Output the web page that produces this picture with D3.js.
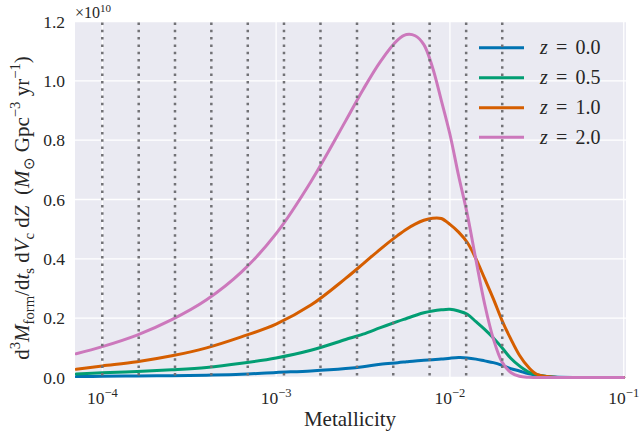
<!DOCTYPE html>
<html><head><meta charset="utf-8">
<script src="https://cdn.jsdelivr.net/npm/d3@7"></script>
<style>
body{margin:0;background:#fff}
svg{display:block}
text{font-family:"Liberation Serif","Times New Roman",serif;fill:#262626;white-space:pre}
</style>
</head><body><svg id="c" width="641" height="435"></svg>
<script>
// log10(metallicity) sample points
const logMetallicity = [-4.15,-4.0,-3.8,-3.6,-3.4,-3.2,-3.0,-2.8,-2.6,-2.5,-2.4,-2.3,-2.25,-2.2,-2.15,-2.1,-2.05,-2.0,-1.95,-1.9,-1.85,-1.8,-1.75,-1.7,-1.65,-1.6,-1.55,-1.5,-1.4,-1.2,-1.0];
// values in units of 1e10
const rateZ00 = [0.003,0.004,0.005,0.006,0.008,0.011,0.017,0.022,0.030,0.036,0.045,0.050,0.053,0.056,0.058,0.060,0.062,0.065,0.067,0.066,0.062,0.056,0.050,0.041,0.030,0.022,0.013,0.007,0.002,0,0];
const rateZ05 = [0.012,0.016,0.020,0.026,0.034,0.048,0.066,0.092,0.128,0.146,0.168,0.189,0.199,0.209,0.218,0.224,0.228,0.230,0.224,0.213,0.188,0.162,0.133,0.100,0.065,0.039,0.019,0.009,0.001,0,0];
const rateZ10 = [0.028,0.039,0.053,0.073,0.100,0.137,0.180,0.244,0.334,0.383,0.433,0.479,0.500,0.517,0.530,0.537,0.536,0.516,0.490,0.455,0.400,0.333,0.265,0.192,0.130,0.075,0.036,0.011,0.001,0,0];
const rateZ20 = [0.080,0.104,0.143,0.195,0.262,0.355,0.485,0.660,0.865,0.970,1.065,1.138,1.156,1.152,1.122,1.045,0.935,0.820,0.680,0.550,0.395,0.247,0.130,0.052,0.017,0.004,0.0005,0,0,0,0];
const seriesLabels = ["0.0","0.5","1.0","2.0"];
const seriesColors = ["#0173B2","#029E73","#D55E00","#CC78BC"];
const binEdges = [1.0e-4,1.62e-4,2.62e-4,4.24e-4,6.87e-4,1.11e-3,1.80e-3,2.92e-3,4.72e-3,7.64e-3,1.24e-2,2.0e-2];
const yTicks = [0,0.2,0.4,0.6,0.8,1.0,1.2];
const xTicks = [1e-4,1e-3,1e-2,1e-1];
const xTickExp = ["\u22124","\u22123","\u22122","\u22121"];

const series = [rateZ00, rateZ05, rateZ10, rateZ20];
const L=75, R=626, T=21.5, B=377.5;
const svg = d3.select("#c");
const x = d3.scaleLog().domain([Math.pow(10,-4.157), Math.pow(10,-0.987)]).range([L,R]);
const y = d3.scaleLinear().domain([0,1.2]).range([B,T]);

svg.append("rect").attr("x",L).attr("y",T).attr("width",R-L).attr("height",B-T).attr("fill","#EAEAF2");
const g = svg.append("g");
g.selectAll(".gy").data(yTicks).join("line").attr("x1",L).attr("x2",R)
  .attr("y1",d=>y(d)).attr("y2",d=>y(d)).attr("stroke","#fff").attr("stroke-width",1.3);
g.selectAll(".gx").data(xTicks).join("line").attr("y1",T).attr("y2",B)
  .attr("x1",d=>x(d)).attr("x2",d=>x(d)).attr("stroke","#fff").attr("stroke-width",1.3);

svg.append("clipPath").attr("id","clip").append("rect").attr("x",L).attr("y",T).attr("width",R-L).attr("height",B-T+1.5);
const line = d3.line().x((d,i)=>x(Math.pow(10,logMetallicity[i]))).y(d=>y(Math.max(0,d))).curve(d3.curveCatmullRom.alpha(0.5));
svg.append("g").attr("clip-path","url(#clip)").selectAll("path").data(series).join("path")
  .attr("d",d=>line(d)).attr("fill","none").attr("stroke",(d,i)=>seriesColors[i])
  .attr("stroke-width",3).attr("stroke-linejoin","round").attr("stroke-linecap","round");

// legend
const legY = [47.7,77.7,107.7,137.2];
const lg = svg.append("g");
seriesLabels.forEach((lab,i)=>{
  lg.append("line").attr("x1",479).attr("x2",524).attr("y1",legY[i]).attr("y2",legY[i])
    .attr("stroke",seriesColors[i]).attr("stroke-width",3);
  const t = lg.append("text").attr("y",legY[i]+6.5).attr("font-size",20);
  t.append("tspan").attr("x",540).attr("font-style","italic").text("z");
  t.append("tspan").attr("x",556).text("=");
  t.append("tspan").attr("x",575.5).text(lab);
});

// dotted bin edges
svg.append("g").selectAll("line").data(binEdges).join("line")
  .attr("x1",d=>x(d)).attr("x2",d=>x(d)).attr("y1",T+1).attr("y2",B)
  .attr("stroke","#727276").attr("stroke-width",2.5).attr("stroke-dasharray","2.5 4.8");

// y tick labels
svg.append("g").selectAll("text").data(yTicks).join("text")
  .attr("x",65).attr("y",d=>y(d)+6).attr("text-anchor","end").attr("font-size",17.5)
  .text(d=>d.toFixed(1));
// x tick labels
xTicks.forEach((v,i)=>{
  const t = svg.append("text").attr("x",x(v)).attr("y",404).attr("text-anchor","middle").attr("font-size",17.5);
  t.append("tspan").text("10");
  t.append("tspan").attr("font-size",12.5).attr("dy",-7).text(xTickExp[i]);
});
// offset text
const off = svg.append("text").attr("x",75).attr("y",18).attr("font-size",16);
off.append("tspan").text("\u00d710");
off.append("tspan").attr("font-size",11).attr("dy",-6).text("10");

// x label
svg.append("text").attr("x",350).attr("y",426).attr("text-anchor","middle").attr("font-size",21).text("Metallicity");

// y label with rich text
function rich(sel, parts, base){
  let cur = 0;
  parts.forEach(p=>{
    const shift = p.pos==="sup" ? -9 : p.pos==="sub" ? 5 : 0;
    const ts = sel.append("tspan").attr("dy", shift-cur).text(p.t);
    if(p.pos) ts.attr("font-size", base*0.7);
    if(p.i) ts.attr("font-style","italic");
    cur = shift;
  });
}
const yl = svg.append("text").attr("transform","translate(29,208) rotate(-90)")
  .attr("text-anchor","middle").attr("font-size",21);
rich(yl, [
  {t:"d"},{t:"3",pos:"sup"},{t:"M",i:1},{t:"form",pos:"sub"},{t:"/d"},{t:"t",i:1},{t:"s",pos:"sub"},
  {t:" d"},{t:"V",i:1},{t:"c",pos:"sub"},{t:" d"},{t:"Z",i:1},{t:"  ("},{t:"M",i:1},{t:"\u2299",pos:"sub"},
  {t:" Gpc"},{t:"\u22123",pos:"sup"},{t:" yr"},{t:"\u22121",pos:"sup"},{t:")"}
], 21);
</script></body></html>
